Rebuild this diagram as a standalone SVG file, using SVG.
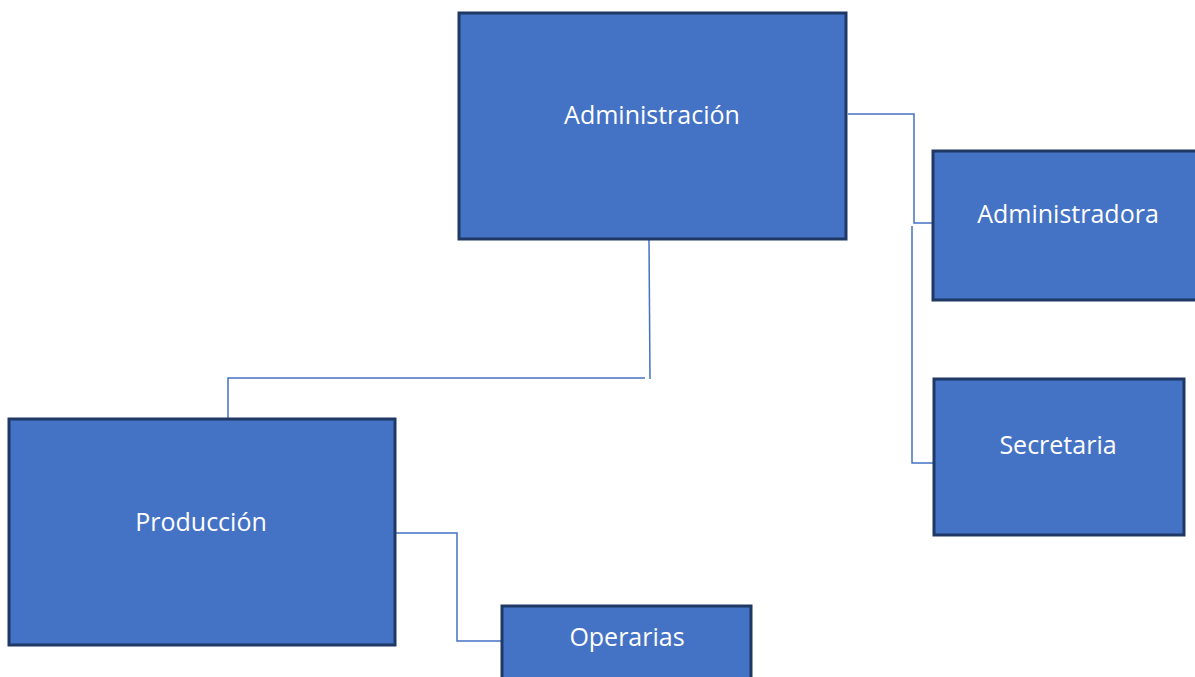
<svg xmlns="http://www.w3.org/2000/svg" width="1195" height="677" viewBox="0 0 1195 677">
<style>
.box{fill:#4472c4;stroke:#1f3864;stroke-width:3}
.lbl{fill:#ffffff;font-family:"Open Sans","Noto Sans",sans-serif;font-size:25px;text-anchor:middle}
.con{fill:none;stroke:#4472c4;stroke-width:1.5}
</style>
<rect width="1195" height="677" fill="#ffffff"/>
<g id="connectors">
<polyline class="con" points="848,114 914,114 914,223 932,223"/>
<polyline class="con" points="912,226 912,463 934,463"/>
<polyline class="con" points="649,240 650,379"/>
<polyline class="con" points="645,378 228,378 228,420"/>
<polyline class="con" points="396,533 457,533 457,641 501,641"/>
</g>
<g id="administracion">
<rect class="box" x="459" y="13" width="387" height="226"/>
<text class="lbl" x="652" y="124">Administración</text>
</g>
<g id="administradora">
<rect class="box" x="933" y="151" width="266" height="149"/>
<text class="lbl" x="1068" y="223">Administradora</text>
</g>
<g id="secretaria">
<rect class="box" x="934" y="379" width="250" height="156"/>
<text class="lbl" x="1058" y="454">Secretaria</text>
</g>
<g id="produccion">
<rect class="box" x="9" y="419" width="386" height="226"/>
<text class="lbl" x="201" y="531">Producción</text>
</g>
<g id="operarias">
<rect class="box" x="502" y="606" width="249" height="80"/>
<text class="lbl" x="627" y="646">Operarias</text>
</g>
</svg>
